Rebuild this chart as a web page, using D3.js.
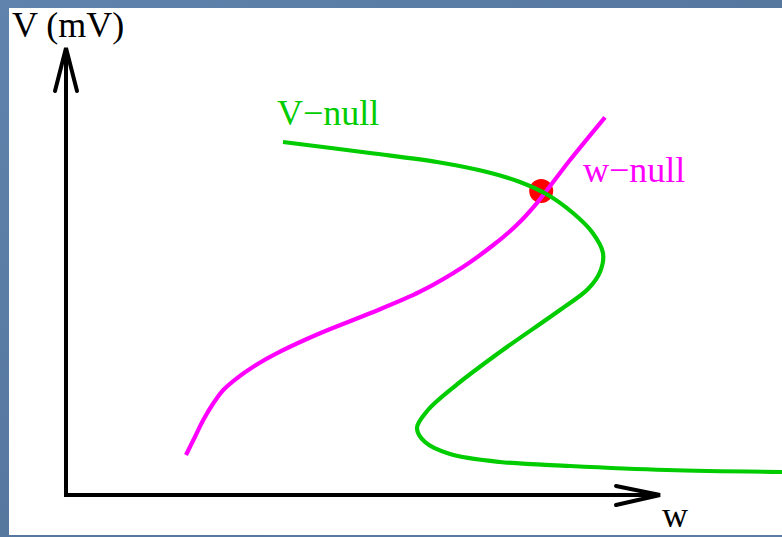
<!DOCTYPE html>
<html>
<head>
<meta charset="utf-8">
<script src="https://cdn.jsdelivr.net/npm/d3@7"></script>
<style>
  html, body { margin: 0; padding: 0; background: #587aa3; }
  svg { display: block; }
</style>
</head>
<body>
<script>
// Phase-plane nullclines: membrane potential V against recovery variable w.
// Values in axis units: w and V each run 0..100 along the drawn arrows.

const vNullW = [36.53, 51.18, 62.46, 70.88, 76.43, 81.14, 85.35, 88.55, 90.40, 89.90, 87.88, 83.16, 73.06, 65.49, 60.94, 59.09, 60.44, 64.65, 73.06, 84.85, 101.18, 120.54];
const vNullV = [79.33, 76.85, 74.83, 72.58, 70.34, 67.42, 63.37, 59.10, 54.38, 50.11, 46.29, 41.57, 32.13, 24.49, 19.10, 15.06, 11.91, 9.21, 7.42, 6.52, 5.62, 5.17];

const wNullW = [20.20, 21.72, 23.11, 24.80, 26.48, 28.74, 31.53, 36.03, 42.76, 51.18, 59.60, 66.89, 71.94, 75.88, 79.24, 84.85, 90.74];
const wNullV = [8.99, 13.10, 16.85, 20.61, 23.60, 26.22, 28.83, 32.20, 36.34, 40.83, 45.69, 51.30, 56.18, 60.67, 65.55, 75.28, 84.88];

const fixedPoint = { w: 80.0, V: 68.3 };

const labels = { yAxis: "V (mV)", xAxis: "w", vNull: "V\u2212null", wNull: "w\u2212null" };

const W = 782, H = 537;
const svg = d3.select("body").append("svg").attr("width", W).attr("height", H);

// slide backdrop and white panel
const defs = svg.append("defs");
const grad = defs.append("linearGradient").attr("id", "bg").attr("x1", 0).attr("y1", 0).attr("x2", 1).attr("y2", 1);
grad.append("stop").attr("offset", "0%").attr("stop-color", "#5f83ad");
grad.append("stop").attr("offset", "50%").attr("stop-color", "#56789f");
grad.append("stop").attr("offset", "100%").attr("stop-color", "#5a7ca5");
svg.append("rect").attr("width", W).attr("height", H).attr("fill", "url(#bg)");
svg.append("rect").attr("x", 9).attr("y", 8).attr("width", W - 9).attr("height", 527).attr("fill", "#ffffff");

const x = d3.scaleLinear().domain([0, 100]).range([66, 660]);
const y = d3.scaleLinear().domain([0, 100]).range([495, 50]);

const line = d3.line().x(d => x(d[0])).y(d => y(d[1])).curve(d3.curveCatmullRom.alpha(0.5));

// fixed point (drawn beneath the curves)
svg.append("circle")
  .attr("cx", x(fixedPoint.w)).attr("cy", y(fixedPoint.V)).attr("r", 12)
  .attr("fill", "#ff0000");

svg.append("path")
  .datum(wNullW.map((w, i) => [w, wNullV[i]]))
  .attr("d", line).attr("fill", "none")
  .attr("stroke", "#ff00ff").attr("stroke-width", 4.2).attr("stroke-linecap", "butt");

svg.append("path")
  .datum(vNullW.map((w, i) => [w, vNullV[i]]))
  .attr("d", line).attr("fill", "none")
  .attr("stroke", "#00cc00").attr("stroke-width", 4.2).attr("stroke-linecap", "butt");

// axes with open arrowheads
const ax = svg.append("g").attr("fill", "none").attr("stroke", "#000").attr("stroke-width", 4);
ax.append("path")
  .attr("d", `M${x(0)},${y(100) - 2} L${x(0)},${y(0)} L${x(100)},${y(0)}`)
  .attr("stroke-linejoin", "miter");
ax.append("path")
  .attr("d", `M${x(0) - 11},${y(100) + 41} L${x(0)},${y(100) - 2} L${x(0) + 11},${y(100) + 41}`)
  .attr("stroke-linecap", "round").attr("stroke-linejoin", "miter");
ax.append("path")
  .attr("d", `M${x(100) - 44},${y(0) - 9} L${x(100)},${y(0)} L${x(100) - 44},${y(0) + 10}`)
  .attr("stroke-linecap", "round").attr("stroke-linejoin", "miter");

const font = "'Liberation Serif', 'Times New Roman', serif";
const txt = (s, tx, ty, color) => svg.append("text")
  .attr("x", tx).attr("y", ty).attr("font-family", font).attr("font-size", 36)
  .attr("fill", color).text(s);

txt(labels.yAxis, 12, 37, "#000");
txt(labels.xAxis, 662, 527, "#000");
txt(labels.vNull, 277, 125, "#00cc00");
txt(labels.wNull, 583, 182, "#ff00ff");
</script>
</body>
</html>
